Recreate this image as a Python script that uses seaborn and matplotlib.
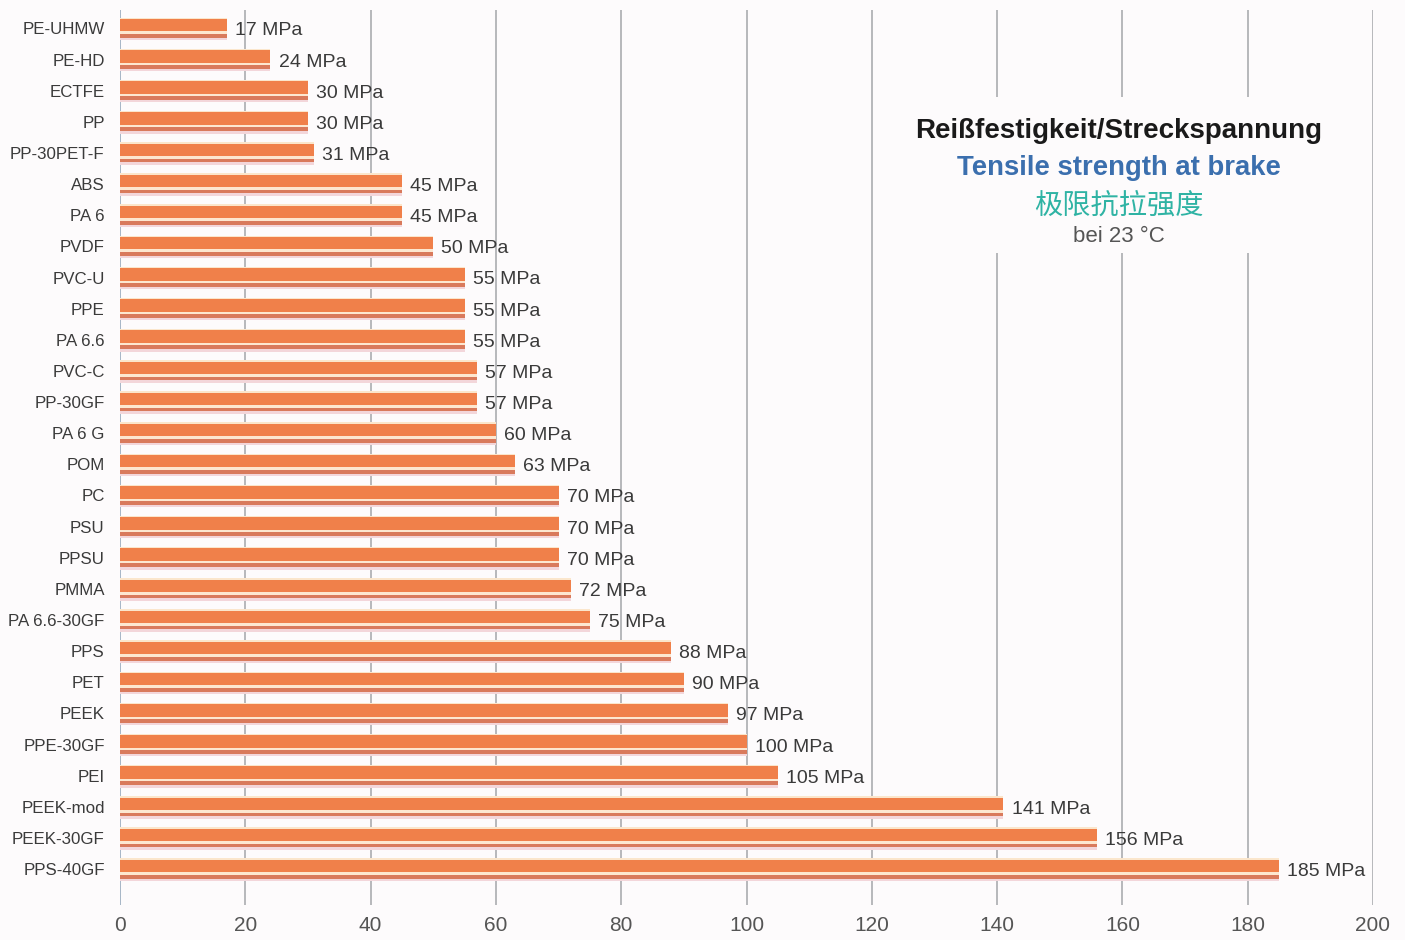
import matplotlib
matplotlib.use("Agg")
import matplotlib.pyplot as plt
from matplotlib.patches import Rectangle
import seaborn as sns
import pandas as pd
import numpy as np

materials = ["PE-UHMW", "PE-HD", "ECTFE", "PP", "PP-30PET-F", "ABS", "PA 6", "PVDF",
             "PVC-U", "PPE", "PA 6.6", "PVC-C", "PP-30GF", "PA 6 G", "POM", "PC",
             "PSU", "PPSU", "PMMA", "PA 6.6-30GF", "PPS", "PET", "PEEK", "PPE-30GF",
             "PEI", "PEEK-mod", "PEEK-30GF", "PPS-40GF"]
strength_mpa = [17, 24, 30, 30, 31, 45, 45, 50, 55, 55, 55, 57, 57, 60, 63, 70,
                70, 70, 72, 75, 88, 90, 97, 100, 105, 141, 156, 185]
x_ticks = [0, 20, 40, 60, 80, 100, 120, 140, 160, 180, 200]

title_de = "Reißfestigkeit/Streckspannung"
title_en = "Tensile strength at brake"
title_zh = "极限抗拉强度"
subtitle = "bei 23 °C"

df = pd.DataFrame({"material": materials, "strength": strength_mpa})

sns.set_theme(style="white")
plt.rcParams["font.family"] = ["Liberation Sans", "DejaVu Sans"]

bg = "#fdfbfc"
fig = plt.figure(figsize=(14.05, 9.40), dpi=100, facecolor=bg)
ax = fig.add_axes([120 / 1405, 1 - 905 / 940, 1253 / 1405, 895 / 940])
ax.set_facecolor(bg)

pos = np.arange(len(materials))
vals = np.array(strength_mpa, dtype=float)

# pale rim above and soft shadow beneath each tube
ax.barh(pos - 0.31, vals, height=0.07, color="#fbe6cc", zorder=2, linewidth=0)
ax.barh(pos + 0.34, vals, height=0.08, color="#f3d6da", zorder=2, linewidth=0)

# main tube body
sns.barplot(data=df, x="strength", y="material", orient="h", color="#f0804a",
            saturation=1, width=0.6, ax=ax, zorder=3, linewidth=0)

# highlight stripe and darker lower rim for the cylinder look
ax.barh(pos + 0.14, vals, height=0.08, color="#fde7d0", zorder=4, linewidth=0)
ax.barh(pos + 0.24, vals, height=0.12, color="#d97a5c", zorder=4, linewidth=0)

# value labels
for i, v in enumerate(strength_mpa):
    ax.text(v + 1.3, i + 0.08, f"{v} MPa", va="center", ha="left",
            fontsize=14, color="#3a3a3a", zorder=6)

ax.set_xlim(0, 200)
ax.set_ylim(len(materials) - 1 + 1.15, -0.59)
ax.set_xticks(x_ticks)
ax.set_xticklabels([str(t) for t in x_ticks])
ax.set_xlabel("")
ax.set_ylabel("")

# vertical grid lines
for t in x_ticks:
    ax.axvline(t, color="#a3a5a9" if t else "#8fa3b8", lw=1.1, zorder=1)

# panel behind the title block hides the grid there
ax.add_patch(Rectangle((138, 2.2), 44.5, 5.0, facecolor=bg, edgecolor="none", zorder=1.5))

for s in ax.spines.values():
    s.set_visible(False)

ax.tick_params(axis="x", length=0, pad=8, labelsize=15, labelcolor="#555555")
ax.tick_params(axis="y", length=0, pad=11, labelsize=12.2, labelcolor="#3a3a3a")

cx = 1119 / 1405
fig.text(cx, 1 - 131 / 940, title_de, ha="center", va="center", fontsize=20,
         fontweight="bold", color="#1a1a1a")
fig.text(cx, 1 - 168 / 940, title_en, ha="center", va="center", fontsize=19.8,
         fontweight="bold", color="#3b6fae")
fig.text(cx, 1 - 206 / 940, title_zh, ha="center", va="center", fontsize=20.3,
         color="#2fb3a4", family=["Noto Sans CJK SC", "DejaVu Sans"])
fig.text(cx, 1 - 237 / 940, subtitle, ha="center", va="center", fontsize=16,
         color="#555555")

fig.savefig("out.png", dpi=100, facecolor=bg)
